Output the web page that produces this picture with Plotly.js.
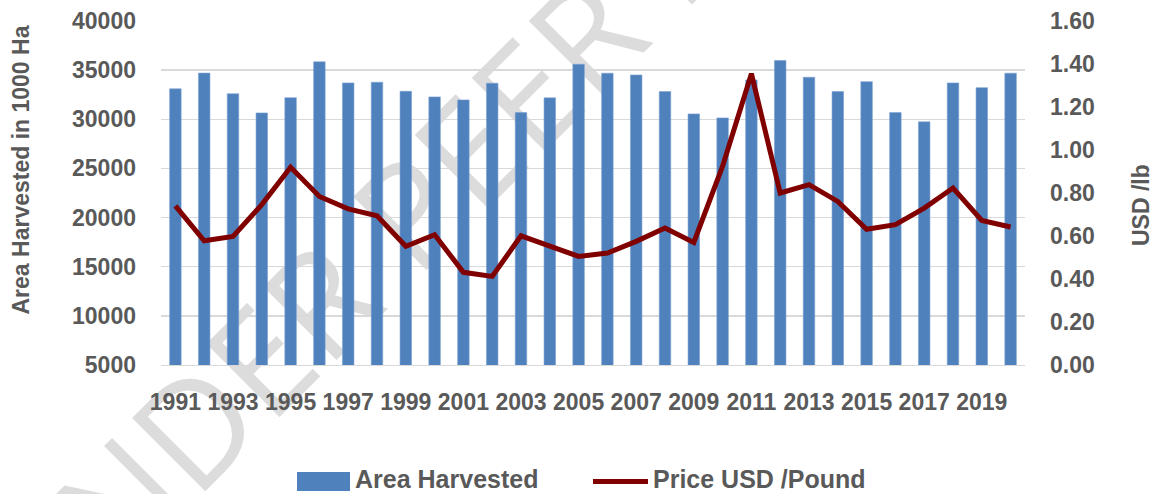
<!DOCTYPE html>
<html>
<head>
<meta charset="utf-8">
<script src="https://cdn.plot.ly/plotly-3.0.1.min.js"></script>
<style>
  html, body { margin:0; padding:0; background:#ffffff; }
  #wrap { position:relative; width:1161px; height:494px; overflow:hidden; }
  #wm { position:absolute; left:0; top:0; width:1161px; height:494px; overflow:hidden; z-index:0; }
  #wm span { position:absolute; left:-48px; top:562px; white-space:nowrap;
    font-family:"Open Sans","DejaVu Sans",sans-serif; font-weight:400; font-size:145px;
    color:#dcdcdc; transform-origin:0 0; transform:rotate(-45deg); line-height:1; }
  #chart { position:absolute; left:0; top:0; z-index:1; }
</style>
</head>
<body>
<div id="wrap">
  <div id="wm"><span>UNDER PEER REVIEW</span></div>
  <div id="chart"></div>
</div>
<script>
const years = [1991,1992,1993,1994,1995,1996,1997,1998,1999,2000,2001,2002,2003,2004,2005,2006,2007,2008,2009,2010,2011,2012,2013,2014,2015,2016,2017,2018,2019,2020];
const areaHarvested = [33100,34700,32600,30650,32200,35850,33700,33770,32850,32280,31970,33670,30680,32180,35600,34690,34510,32820,30550,30140,34000,35980,34280,32820,33830,30680,29740,33700,33220,34690];
const priceUsdPound = [0.74,0.578,0.598,0.746,0.92,0.784,0.726,0.694,0.552,0.606,0.431,0.412,0.601,0.552,0.505,0.521,0.575,0.637,0.570,0.925,1.355,0.80,0.839,0.761,0.631,0.653,0.730,0.823,0.672,0.642];
const xTickYears = [1991,1993,1995,1997,1999,2001,2003,2005,2007,2009,2011,2013,2015,2017,2019];
const leftTicks = [5000,10000,15000,20000,25000,30000,35000,40000];
const rightTicks = [0,0.2,0.4,0.6,0.8,1.0,1.2,1.4,1.6];
const seriesNames = ['Area Harvested', 'Price USD /Pound'];
const seriesColors = ['#4f81bd', '#800000'];

const txt = '#595959';
const fam = '"Liberation Sans", Arial, sans-serif';

// plot area in pixels
const L = 161, R = 1025, T = 21, B = 365;
const px = v => (v - L) / (R - L);
const py = v => (B - v) / (B - T);

const traces = [
  {
    type:'bar', name:seriesNames[0], x:years, y:areaHarvested,
    marker:{color:seriesColors[0], line:{color:'#7ea3d3', width:0.6}},
    yaxis:'y'
  },
  {
    type:'scatter', mode:'lines', name:seriesNames[1], x:years, y:priceUsdPound,
    line:{color:seriesColors[1], width:5},
    yaxis:'y2'
  }
];

const layout = {
  width:1161, height:494,
  margin:{l:L, r:1161-R, t:T, b:494-B, autoexpand:false},
  paper_bgcolor:'rgba(0,0,0,0)', plot_bgcolor:'rgba(0,0,0,0)',
  font:{family:fam, color:txt, size:23, weight:'bold'},
  bargap:0.6,
  showlegend:false,
  xaxis:{
    range:[1990.5, 2020.5], tickmode:'array', tickvals:xTickYears, ticktext:xTickYears.map(String),
    showgrid:false, zeroline:false, showline:true, linecolor:'#d9d9d9', linewidth:1.3,
    ticks:'', ticklabelstandoff:16,
    tickfont:{family:fam, size:23, color:txt, weight:'bold'}
  },
  yaxis:{
    range:[5000, 40000], tickmode:'array', tickvals:leftTicks, tickformat:'d',
    showgrid:true, gridcolor:'#d9d9d9', gridwidth:1.3, zeroline:false, showline:false,
    ticks:'', ticklabelstandoff:24,
    tickfont:{family:fam, size:23, color:txt, weight:'bold'}
  },
  yaxis2:{
    range:[0, 1.6], tickmode:'array', tickvals:rightTicks, tickformat:'.2f',
    overlaying:'y', side:'right', showgrid:false, zeroline:false, showline:false,
    ticks:'', ticklabelstandoff:24,
    tickfont:{family:fam, size:23, color:txt, weight:'bold'}
  },
  shapes:[
    {type:'rect', xref:'paper', yref:'paper', x0:px(297), x1:px(350), y0:py(491), y1:py(472),
     fillcolor:seriesColors[0], line:{width:0}},
    {type:'line', xref:'paper', yref:'paper', x0:px(593), x1:px(648), y0:py(481.5), y1:py(481.5),
     line:{color:seriesColors[1], width:5}}
  ],
  annotations:[
    {text:'Area Harvested in 1000 Ha', xref:'paper', yref:'paper', x:px(20.5), y:py(170),
     xanchor:'center', yanchor:'middle', textangle:-90, showarrow:false,
     font:{family:fam, size:23, color:txt, weight:'bold'}},
    {text:'USD /lb', xref:'paper', yref:'paper', x:px(1141), y:py(205),
     xanchor:'center', yanchor:'middle', textangle:-90, showarrow:false,
     font:{family:fam, size:23, color:txt, weight:'bold'}},
    {text:seriesNames[0], xref:'paper', yref:'paper', x:px(353), y:py(478.5),
     xanchor:'left', yanchor:'middle', showarrow:false,
     font:{family:fam, size:25, color:txt, weight:'bold'}},
    {text:seriesNames[1], xref:'paper', yref:'paper', x:px(651), y:py(478.5),
     xanchor:'left', yanchor:'middle', showarrow:false,
     font:{family:fam, size:25, color:txt, weight:'bold'}}
  ]
};

Plotly.newPlot('chart', traces, layout, {displayModeBar:false, staticPlot:true});
</script>
</body>
</html>
